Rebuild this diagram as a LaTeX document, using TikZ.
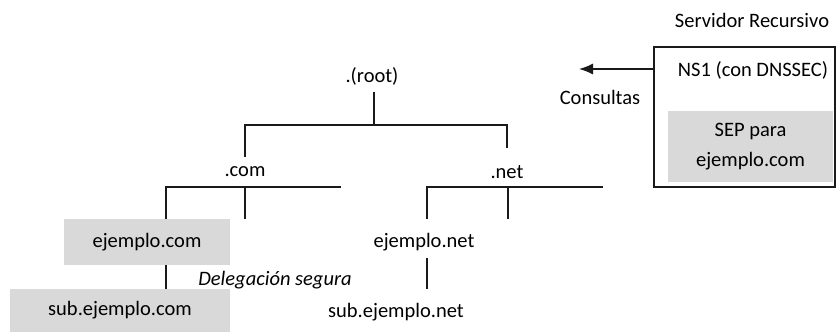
\documentclass[tikz,border=0pt]{standalone}
\usepackage{fontspec}
\setmainfont{Carlito}
\usetikzlibrary{arrows.meta}
\definecolor{boxgray}{HTML}{D9D9D9}
\definecolor{linec}{HTML}{1A1A1A}
\tikzset{
  lbl/.style={inner sep=0pt, font=\fontsize{20.5}{24}\selectfont, text=black},
  graybox/.style={fill=boxgray, draw=none, inner sep=0pt, font=\fontsize{20.5}{24}\selectfont, text=black},
  conn/.style={draw=linec, line width=1.4pt},
}
\begin{document}
\begin{tikzpicture}[x=1pt,y=-1pt]
\useasboundingbox (0,0) rectangle (839,332);
% labels
\node[lbl] (root) at (372,76) {.(root)};
\node[lbl] (com) at (245,172) {.com};
\node[lbl] (net) at (507,172) {.net};
\node[graybox, minimum width=166pt, minimum height=46pt] (ejcom) at (147,242) {ejemplo.com};
\node[graybox, minimum width=220pt, minimum height=43pt] (subcom) at (120,310.5) {sub.ejemplo.com};
\node[lbl] (ejnet) at (424,242) {ejemplo.net};
\node[lbl] (subnet) at (396,312) {sub.ejemplo.net};
\node[lbl, font=\fontsize{20.5}{24}\selectfont\itshape] (deleg) at (275,280) {Delegación segura};
% server
\node[lbl] (srv) at (752,20) {Servidor Recursivo};
\node[draw=linec, line width=1.4pt, minimum width=181pt, minimum height=140pt, inner sep=0pt] (ns) at (744.5,117) {};
\node[lbl] (nstxt) at (753,70) {NS1 (con DNSSEC)};
\node[graybox, minimum width=165pt, minimum height=71pt, align=center, font=\fontsize{20.5}{30}\selectfont] (sep) at (750.5,146.5) {SEP para\\ejemplo.com};
\node[lbl] (cons) at (600,97) {Consultas};
% tree coordinates
\coordinate (r1) at (374,92);
\coordinate (r2) at (374,125);
\coordinate (rl) at (245,125);
\coordinate (rlb) at (245,157);
\coordinate (rr) at (507,125);
\coordinate (rrb) at (507,148);
\coordinate (c0) at (166,187);
\coordinate (c1) at (245,187);
\coordinate (c2) at (341,187);
\coordinate (c1b) at (245,219);
\coordinate (n0) at (427,187);
\coordinate (n1) at (508,187);
\coordinate (n2) at (603,187);
\coordinate (n0b) at (427,219);
\coordinate (n1b) at (508,219);
\coordinate (e1) at (427,258);
\coordinate (e2) at (427,289);
\coordinate (arrEnd) at (579,69);
% tree lines
\draw[conn] (r1) -- (r2);
\draw[conn] (rlb) -- (rl) -- (rr) -- (rrb);
\draw[conn] (ejcom.north -| c0) -- (c0) -- (c2);
\draw[conn] (c1) -- (c1b);
\draw[conn] (n0b) -- (n0) -- (n2);
\draw[conn] (n1) -- (n1b);
\draw[conn] (ejcom.south -| c0) -- (subcom.north -| c0);
\draw[conn] (e1) -- (e2);
% arrow
\draw[conn, -{Latex[length=14pt,width=11pt]}] (ns.west |- arrEnd) -- (arrEnd);
\end{tikzpicture}
\end{document}
